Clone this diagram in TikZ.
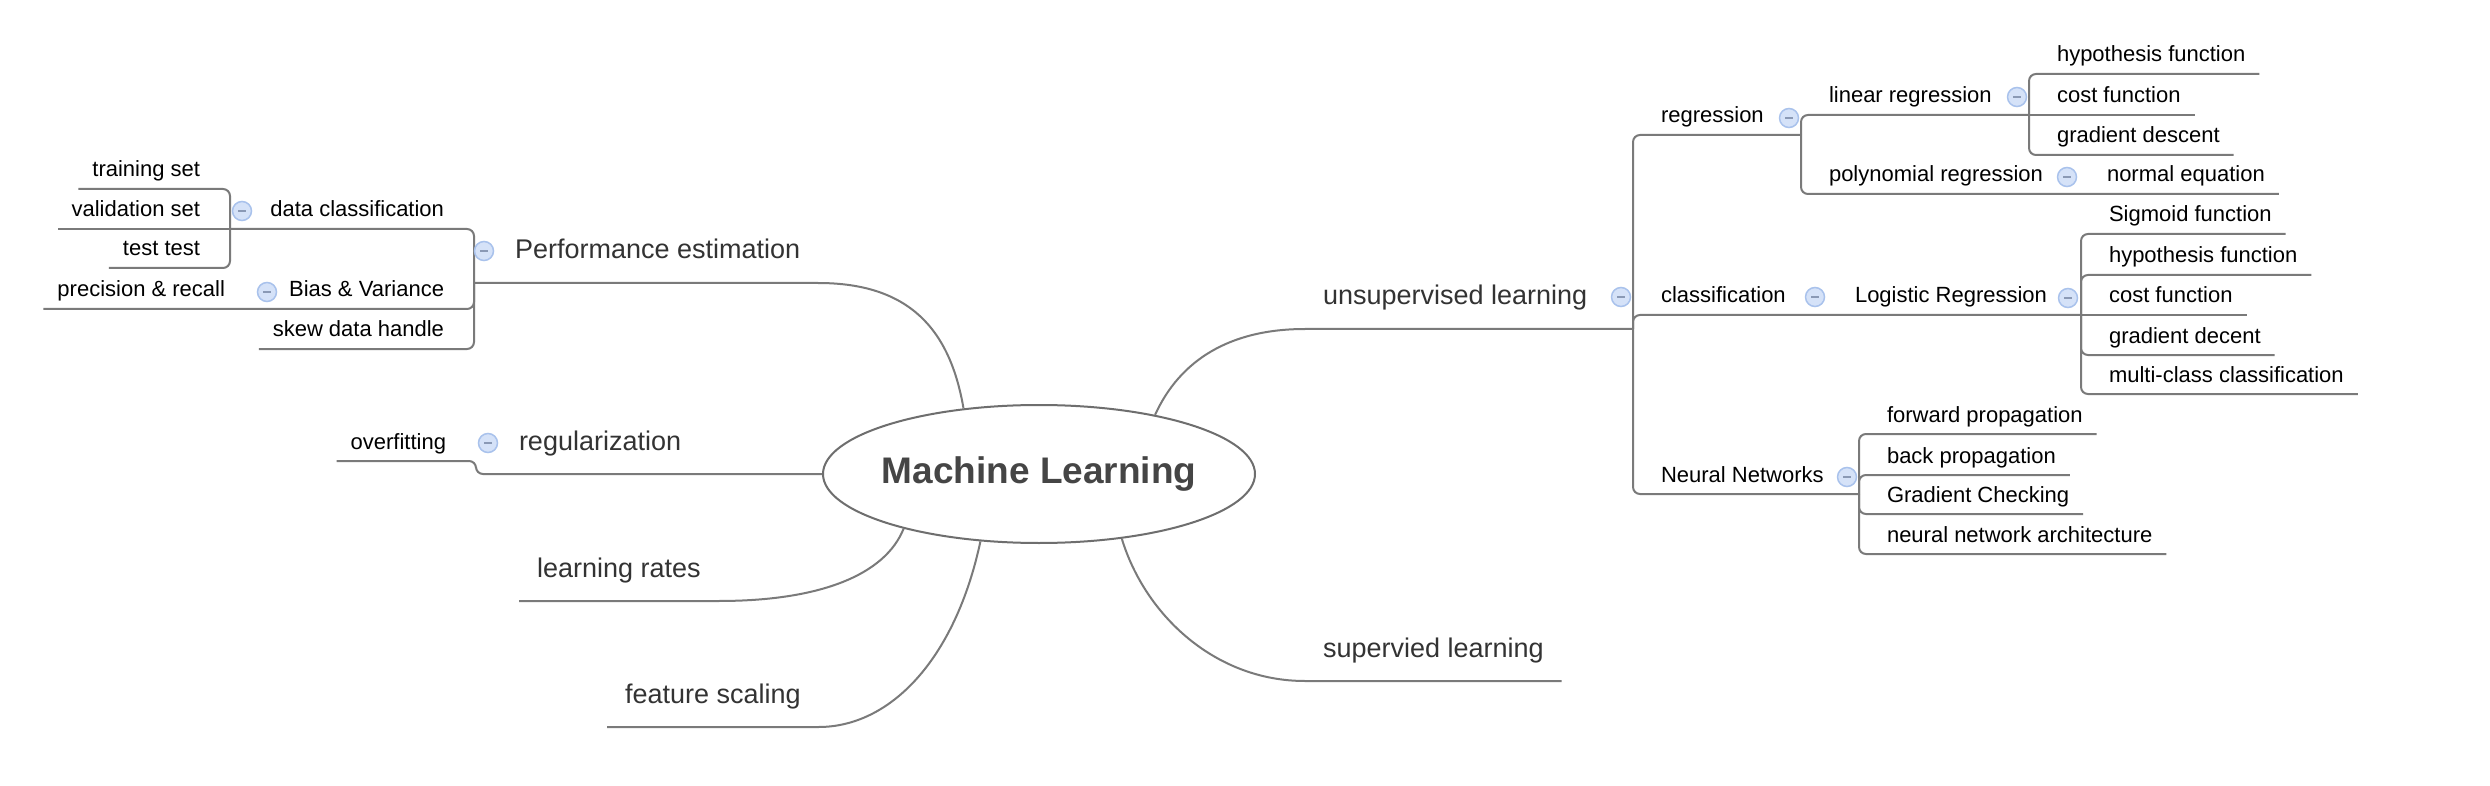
\documentclass[tikz,border=0pt]{standalone}
\usepackage{fontspec}
\setmainfont{Liberation Sans}
\usepackage{tikz}
\usetikzlibrary{shapes.geometric}
\definecolor{linkgray}{HTML}{7A7A7A}
\definecolor{rootline}{HTML}{6E6E6E}
\definecolor{ringblue}{HTML}{A9C2EC}
\definecolor{fillblue}{HTML}{D5E2F8}
\definecolor{dashblue}{HTML}{8A99B5}
\definecolor{topicgray}{HTML}{333333}
\definecolor{rootgray}{HTML}{454545}
\tikzset{
  leaf/.style={font=\fontsize{22pt}{26pt}\selectfont, inner xsep=14pt, inner ysep=0pt, outer xsep=0pt, outer ysep=12pt, text depth=0pt},
  topic/.style={font=\fontsize{27pt}{32pt}\selectfont, text=topicgray, inner xsep=18pt, inner ysep=0pt, outer xsep=0pt, outer ysep=24pt, text depth=0pt},
  link/.style={draw=linkgray, line width=2pt},
  fork/.style={link, rounded corners=7pt},
  fold/.style={circle, draw=ringblue, fill=fillblue, line width=1.5pt, minimum size=19pt, inner sep=0pt,
    path picture={\draw[dashblue, line width=1.6pt] ([xshift=-4pt]path picture bounding box.center) -- ([xshift=4pt]path picture bounding box.center);}}
}
\begin{document}
\begin{tikzpicture}[x=1pt,y=-1pt]
        \path[use as bounding box, fill=white] (0,0) rectangle (2490,786);
        \node[ellipse, draw=rootline, line width=2pt, minimum width=432pt, minimum height=138pt, inner xsep=-6pt, inner ysep=0pt,
          font=\bfseries\fontsize{37pt}{44pt}\selectfont, text=rootgray] (ml) at (1039,474) {Machine Learning};

        \coordinate(perfj) at (474,283);
        \coordinate(dclsj) at (230,229);
        \coordinate(bvj) at (255,309);
        \coordinate(regj) at (476,474);
        \coordinate(uj) at (1633,329);
        \coordinate(regrj) at (1801,135);
        \coordinate(linj) at (2029,115);
        \coordinate(polj) at (2079,194);
        \coordinate(clsj) at (1827,315);
        \coordinate(logj) at (2081,315);
        \coordinate(nnj) at (1859,494);

        \node[topic, anchor=south west] (perf) at (497,283) {Performance estimation};
        \node[leaf, anchor=south east] (dcls) at (458,229) {data classification};
        \node[leaf, anchor=south east] (bias) at (458,309) {Bias \& Variance};
        \node[leaf, anchor=south east] (skew) at (458,349) {skew data handle};
        \node[leaf, anchor=south east] (train) at (214,189) {training set};
        \node[leaf, anchor=south east] (valid) at (214,229) {validation set};
        \node[leaf, anchor=south east] (testt) at (214,268) {test test};
        \node[leaf, anchor=south east] (prec) at (239,309) {precision \& recall};
        \node[topic, anchor=south west] (reg) at (501,474) {regularization};
        \node[leaf, anchor=south east] (ovf) at (460,461) {overfitting};
        \node[topic, anchor=south west] (lr) at (519,601) {learning rates};
        \node[topic, anchor=south west] (fs) at (607,727) {feature scaling};

        \node[topic, anchor=south west] (uns) at (1305,329) {unsupervised learning};
        \node[topic, anchor=south west] (sup) at (1305,681) {supervied learning};
        \node[leaf, anchor=south west] (regr) at (1647,135) {regression};
        \node[leaf, anchor=south west] (cls) at (1647,315) {classification};
        \node[leaf, anchor=south west] (nn) at (1647,494) {Neural Networks};
        \node[leaf, anchor=south west] (lin) at (1815,115) {linear regression};
        \node[leaf, anchor=south west] (poly) at (1815,194) {polynomial regression};
        \node[leaf, anchor=south west] (hyp1) at (2043,74) {hypothesis function};
        \node[leaf, anchor=south west] (cost1) at (2043,115) {cost function};
        \node[leaf, anchor=south west] (grad1) at (2043,155) {gradient descent};
        \node[leaf, anchor=south west] (normal) at (2093,194) {normal equation};
        \node[leaf, anchor=south west] (logr) at (1841,315) {Logistic Regression};
        \node[leaf, anchor=south west] (sig) at (2095,234) {Sigmoid function};
        \node[leaf, anchor=south west] (hyp2) at (2095,275) {hypothesis function};
        \node[leaf, anchor=south west] (cost2) at (2095,315) {cost function};
        \node[leaf, anchor=south west] (gd2) at (2095,355) {gradient decent};
        \node[leaf, anchor=south west] (mc) at (2095,394) {multi-class classification};
        \node[leaf, anchor=south west] (fwd) at (1873,434) {forward propagation};
        \node[leaf, anchor=south west] (back) at (1873,475) {back propagation};
        \node[leaf, anchor=south west] (gc) at (1873,514) {Gradient Checking};
        \node[leaf, anchor=south west] (arch) at (1873,554) {neural network architecture};

        \draw[link] (perfj) -- (perf.south east) .. controls (910,283) and (950,330) .. (ml.139);
        \draw[fork] (perfj) |- (dclsj);
        \draw[fork] (perfj) |- (bvj) -- (prec.south west);
        \draw[fork] (perfj) |- (skew.south west);
        \draw[fork] (dclsj) |- (train.south west);
        \draw[link] (dclsj) -- (valid.south west);
        \draw[fork] (dclsj) |- (testt.south west);
        \draw[fork] (ml.west) -- (regj) |- (ovf.south west);
        \draw[link] (lr.south west) -- (lr.south east) .. controls (820,601) and (885,575) .. (ml.202);
        \draw[link] (fs.south west) -- (fs.south east) .. controls (890,727) and (955,660) .. (ml.229);

        \draw[link] (ml.27) .. controls (1180,360) and (1230,329) .. (uns.south west) -- (uj);
        \draw[link] (ml.-38) .. controls (1145,615) and (1215,681) .. (sup.south west) -- (sup.south east);
        \draw[fork] (uj) |- (regrj);
        \draw[fork] (uj) |- (clsj) -- (logj);
        \draw[fork] (uj) |- (nnj);
        \draw[fork] (regrj) |- (linj);
        \draw[fork] (regrj) |- (polj) -- (normal.south east);
        \draw[fork] (linj) |- (hyp1.south east);
        \draw[link] (linj) -- (cost1.south east);
        \draw[fork] (linj) |- (grad1.south east);
        \draw[fork] (logj) |- (sig.south east);
        \draw[fork] (logj) |- (hyp2.south east);
        \draw[link] (logj) -- (cost2.south east);
        \draw[fork] (logj) |- (gd2.south east);
        \draw[fork] (logj) |- (mc.south east);
        \draw[fork] (nnj) |- (fwd.south east);
        \draw[fork] (nnj) |- (back.south east);
        \draw[fork] (nnj) |- (gc.south east);
        \draw[fork] (nnj) |- (arch.south east);

        \node[fold] (perfm) at (484,251) {};
        \node[fold] (dclsm) at (242,211) {};
        \node[fold] (biasm) at (267,292) {};
        \node[fold] (regm) at (488,443) {};
        \node[fold] (unsm) at (1621,297) {};
        \node[fold] (regrm) at (1789,118) {};
        \node[fold] (linm) at (2017,97) {};
        \node[fold] (polym) at (2067,177) {};
        \node[fold] (clsm) at (1815,297) {};
        \node[fold] (logrm) at (2068,298) {};
        \node[fold] (nnm) at (1847,477) {};
    \end{tikzpicture}
\end{document}
